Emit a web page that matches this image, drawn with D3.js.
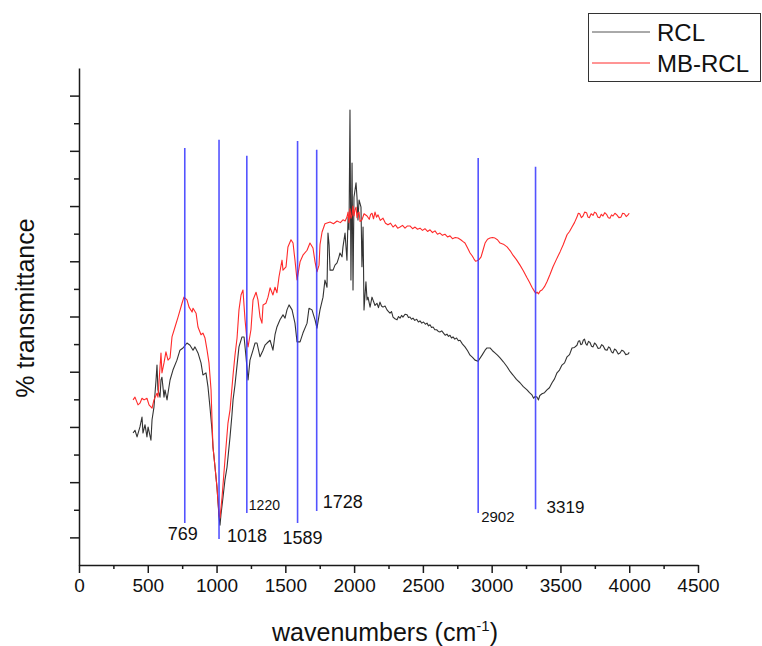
<!DOCTYPE html>
<html>
<head>
<meta charset="utf-8">
<script src="https://cdn.jsdelivr.net/npm/d3@7/dist/d3.min.js"></script>
<style>
  body { margin: 0; background: #fff; }
  svg { display: block; font-family: "Liberation Sans", Arial, sans-serif; }
</style>
</head>
<body>
<svg id="chart" width="762" height="646"></svg>
<script>
// FTIR spectra as [wavenumber (cm-1), % transmittance (offset units)]
const rclSpectrum = [
  [393, 23.9], [407, 24.4], [422, 23.2], [443, 25.0], [458, 26.8], [465, 23.9], [480, 25.4], [494, 23.2], [502, 25.0], [523, 22.6],
  [531, 26.3], [545, 28.6], [560, 33.5], [567, 36.2], [574, 31.7], [589, 30.4], [596, 33.5], [603, 34.0], [618, 30.4], [625, 31.7],
  [640, 29.9], [647, 31.1], [662, 33.5], [683, 35.3], [712, 37.1], [734, 38.9], [756, 39.3], [785, 40.2], [807, 39.8], [829, 38.9],
  [843, 39.5], [865, 38.4], [887, 36.6], [901, 34.4], [923, 34.8], [938, 32.2], [952, 28.6], [967, 24.4], [974, 21.4], [989, 17.7],
  [1003, 14.1], [1018, 8.7], [1025, 7.2], [1032, 9.1], [1047, 12.3], [1061, 15.4], [1076, 17.7], [1098, 23.2], [1112, 27.2], [1120, 29.9],
  [1134, 32.6], [1149, 36.2], [1163, 39.5], [1185, 41.3], [1200, 41.3], [1214, 37.7], [1229, 33.5], [1243, 37.1], [1265, 38.9], [1280, 40.2],
  [1294, 40.2], [1316, 37.7], [1338, 38.9], [1352, 39.8], [1367, 40.2], [1389, 40.7], [1410, 38.9], [1425, 41.7], [1439, 43.1], [1461, 44.4],
  [1483, 45.3], [1498, 44.7], [1512, 46.2], [1527, 47.1], [1549, 46.2], [1570, 43.8], [1585, 40.4], [1607, 40.4], [1628, 42.0], [1658, 43.8],
  [1672, 46.5], [1694, 46.2], [1716, 44.4], [1730, 42.9], [1752, 46.2], [1774, 48.5], [1788, 51.6], [1803, 50.3], [1810, 60.1], [1818, 58.0],
  [1825, 53.4], [1847, 53.4], [1861, 54.3], [1876, 54.7], [1890, 55.8], [1897, 56.5], [1912, 55.8], [1919, 57.6], [1934, 60.1], [1948, 55.2],
  [1956, 63.0], [1963, 60.7], [1970, 82.4], [1977, 51.6], [1985, 72.8], [1992, 49.8], [1999, 66.6], [2014, 69.2], [2021, 66.6], [2028, 62.5],
  [2036, 66.1], [2050, 64.8], [2057, 54.0], [2065, 61.2], [2072, 46.2], [2086, 51.3], [2094, 48.0], [2101, 48.5], [2116, 46.7], [2130, 48.5],
  [2137, 48.0], [2152, 47.0], [2166, 47.4], [2177, 46.6], [2188, 47.6], [2199, 46.9], [2210, 46.7], [2225, 46.9], [2239, 46.2], [2250, 45.9],
  [2261, 45.6], [2272, 45.9], [2283, 44.9], [2297, 44.6], [2312, 44.4], [2323, 45.0], [2334, 44.7], [2345, 45.2], [2355, 44.9], [2370, 45.4],
  [2385, 45.3], [2395, 44.8], [2406, 44.9], [2417, 44.5], [2428, 44.7], [2441, 44.3], [2455, 44.5], [2467, 44.0], [2479, 44.2], [2492, 43.8],
  [2505, 44.0], [2518, 43.6], [2530, 43.8], [2541, 43.3], [2552, 43.5], [2563, 43.0], [2574, 43.1], [2587, 42.6], [2600, 42.6], [2612, 42.3],
  [2624, 42.2], [2637, 42.4], [2650, 42.0], [2662, 41.6], [2675, 41.8], [2686, 41.4], [2697, 41.6], [2708, 41.1], [2719, 41.3], [2732, 40.9],
  [2745, 41.1], [2758, 40.6], [2770, 40.7], [2788, 40.0], [2806, 39.5], [2825, 38.8], [2843, 38.0], [2861, 37.6], [2879, 37.1], [2901, 36.9],
  [2930, 38.0], [2952, 38.9], [2966, 39.3], [2988, 39.3], [3006, 38.8], [3024, 38.4], [3042, 38.0], [3061, 37.5], [3085, 36.8], [3112, 35.9],
  [3135, 35.0], [3155, 34.4], [3180, 33.6], [3206, 33.0], [3230, 32.3], [3257, 31.7], [3275, 31.2], [3293, 30.8], [3305, 30.2], [3315, 30.5],
  [3330, 30.4], [3340, 29.9], [3350, 30.7], [3366, 31.0], [3384, 31.2], [3402, 31.7], [3420, 32.1], [3439, 33.0], [3457, 33.7], [3475, 34.8],
  [3493, 35.3], [3511, 36.2], [3530, 36.6], [3548, 37.7], [3566, 38.1], [3584, 39.3], [3602, 39.4], [3620, 39.8], [3630, 40.5], [3640, 40.6],
  [3648, 39.9], [3657, 40.0], [3666, 40.7], [3675, 40.9], [3684, 40.1], [3693, 39.8], [3704, 40.5], [3715, 40.3], [3726, 39.6], [3737, 39.5],
  [3748, 40.2], [3760, 39.9], [3774, 39.2], [3788, 39.3], [3799, 39.9], [3810, 39.7], [3825, 39.0], [3839, 38.9], [3850, 39.5], [3860, 39.3],
  [3871, 38.6], [3882, 38.4], [3893, 39.1], [3905, 38.9], [3920, 38.2], [3933, 38.4], [3946, 38.9], [3960, 38.7], [3975, 38.1], [3991, 38.2],
  [4000, 38.5]
];

const mbSpectrum = [
  [393, 29.9], [407, 30.4], [429, 29.0], [443, 29.3], [458, 30.2], [473, 29.9], [494, 30.2], [509, 29.0], [531, 28.4], [545, 29.9],
  [567, 31.1], [574, 30.4], [596, 38.4], [603, 34.8], [618, 36.6], [632, 38.6], [647, 37.1], [662, 37.5], [676, 41.3], [698, 43.1],
  [720, 44.9], [749, 47.4], [763, 48.5], [785, 48.0], [800, 46.7], [822, 45.8], [829, 46.5], [851, 45.6], [865, 43.1], [887, 41.7],
  [901, 42.0], [916, 41.1], [931, 38.9], [945, 36.6], [960, 31.7], [967, 26.3], [974, 21.4], [989, 17.7], [1003, 14.1], [1018, 9.1],
  [1025, 8.5], [1040, 12.3], [1061, 19.0], [1083, 25.7], [1098, 28.1], [1120, 34.4], [1134, 38.0], [1149, 41.1], [1163, 46.2], [1178, 48.9],
  [1192, 49.8], [1207, 44.4], [1221, 40.7], [1229, 39.5], [1250, 42.6], [1265, 48.0], [1287, 49.4], [1301, 48.0], [1316, 44.9], [1330, 43.8],
  [1338, 47.1], [1359, 47.4], [1374, 48.5], [1389, 50.2], [1410, 48.9], [1425, 50.3], [1439, 49.3], [1454, 52.2], [1476, 55.2], [1483, 53.4],
  [1505, 54.0], [1519, 57.6], [1541, 58.9], [1556, 58.3], [1570, 55.2], [1585, 51.6], [1607, 54.9], [1628, 56.1], [1658, 57.0], [1679, 58.3],
  [1701, 57.4], [1716, 54.9], [1730, 53.1], [1745, 54.3], [1752, 58.0], [1767, 60.3], [1788, 61.8], [1825, 62.1], [1850, 61.8], [1876, 62.3],
  [1900, 62.0], [1919, 62.5], [1935, 62.3], [1948, 63.0], [1956, 63.9], [1963, 62.0], [1970, 64.5], [1977, 62.8], [1985, 63.4], [1992, 65.0],
  [1999, 63.2], [2006, 64.3], [2014, 64.8], [2021, 62.9], [2028, 63.7], [2036, 63.9], [2043, 62.2], [2057, 62.5], [2072, 63.6], [2094, 63.2],
  [2110, 62.6], [2120, 63.5], [2130, 63.7], [2141, 62.7], [2152, 63.9], [2163, 63.0], [2174, 63.4], [2190, 62.4], [2210, 62.8], [2228, 61.9],
  [2246, 61.6], [2265, 61.9], [2283, 61.2], [2300, 61.6], [2317, 61.0], [2334, 61.2], [2352, 61.5], [2370, 61.0], [2388, 61.4], [2406, 61.4],
  [2425, 60.9], [2443, 61.2], [2461, 60.8], [2479, 61.0], [2497, 60.6], [2515, 60.9], [2534, 60.4], [2552, 60.7], [2570, 60.2], [2588, 60.5],
  [2606, 59.9], [2624, 60.1], [2642, 59.7], [2660, 59.9], [2679, 59.4], [2697, 59.6], [2715, 59.1], [2735, 59.3], [2755, 59.2], [2775, 58.9],
  [2790, 58.6], [2806, 58.3], [2825, 57.4], [2843, 56.5], [2858, 56.0], [2872, 55.4], [2883, 55.0], [2893, 55.1], [2908, 55.3], [2923, 55.8],
  [2937, 57.0], [2952, 58.3], [2970, 59.0], [2988, 59.2], [3006, 59.3], [3024, 59.2], [3042, 58.9], [3061, 58.3], [3085, 58.1], [3112, 57.6],
  [3135, 56.9], [3155, 56.1], [3180, 55.3], [3206, 54.3], [3230, 53.3], [3257, 52.0], [3275, 51.2], [3293, 50.3], [3310, 49.6], [3320, 49.2],
  [3330, 49.4], [3340, 49.1], [3352, 49.6], [3366, 49.8], [3384, 50.4], [3402, 51.3], [3424, 52.6], [3446, 54.0], [3470, 55.3], [3497, 56.7],
  [3520, 58.0], [3548, 59.8], [3566, 60.4], [3584, 61.2], [3602, 62.0], [3620, 63.0], [3630, 63.7], [3640, 63.6], [3652, 62.9], [3664, 63.2],
  [3676, 63.9], [3690, 63.8], [3700, 63.0], [3710, 62.9], [3723, 63.6], [3737, 63.3], [3748, 63.9], [3760, 63.7], [3772, 63.0], [3785, 62.9],
  [3797, 63.5], [3809, 63.2], [3822, 63.8], [3835, 63.5], [3848, 62.9], [3860, 62.8], [3871, 63.4], [3882, 63.2], [3896, 63.7], [3910, 63.4],
  [3925, 62.9], [3940, 63.0], [3952, 63.7], [3965, 63.6], [3978, 63.1], [3991, 63.4], [4000, 63.7]
];

// Assigned absorption bands
const peakWave = [769, 1018, 1220, 1589, 1728, 2902, 3319];
const peakLabels = ["769", "1018", "1220", "1589", "1728", "2902", "3319"];
const peakTop = [75.5, 77.0, 74.1, 76.8, 75.2, 73.7, 72.1];
const peakBottom = [7.6, 4.7, 9.4, 7.6, 9.8, 9.4, 10.1];

const xMajor = [0, 500, 1000, 1500, 2000, 2500, 3000, 3500, 4000, 4500];
const xMinor = [250, 750, 1250, 1750, 2250, 2750, 3250, 3750, 4250];
const yMajor = [5, 15, 25, 35, 45, 55, 65, 75, 85];
const yMinor = [10, 20, 30, 40, 50, 60, 70, 80];
const seriesNames = ["RCL", "MB-RCL"];

// ---- layout ----
const svg = d3.select("#chart");
const x = d3.scaleLinear().domain([0, 4500]).range([79, 698]);
const y = d3.scaleLinear().domain([0, 90]).range([565, 68]);
const colors = { rcl: "#333333", mb: "#ff2a2a", band: "#3535ff", axis: "#1a1a1a" };

// placement of the band labels relative to the bottom end of each line
const labelLayout = [
  { dx: -2, dy: 17, anchor: "middle", size: 18 },
  { dx: 8, dy: 3, anchor: "start", size: 18 },
  { dx: 2, dy: -3, anchor: "start", size: 14 },
  { dx: 5, dy: 21, anchor: "middle", size: 18 },
  { dx: 6, dy: -3, anchor: "start", size: 18 },
  { dx: 3, dy: 9, anchor: "start", size: 15 },
  { dx: 11, dy: 4, anchor: "start", size: 17 }
];

// ---- axes ----
const gx = svg.append("g").attr("transform", `translate(0,${y(0)})`);
gx.call(d3.axisBottom(x).tickValues(xMajor).tickSize(8).tickSizeOuter(0).tickPadding(6).tickFormat(d3.format("d")));
const gxMinor = svg.append("g").attr("transform", `translate(0,${y(0)})`);
gxMinor.call(d3.axisBottom(x).tickValues(xMinor).tickSize(4).tickFormat(""));
gxMinor.select(".domain").remove();

const gy = svg.append("g").attr("transform", `translate(${x(0)},0)`);
gy.call(d3.axisLeft(y).tickValues(yMajor).tickSize(9).tickSizeOuter(0).tickFormat(""));
const gyMinor = svg.append("g").attr("transform", `translate(${x(0)},0)`);
gyMinor.call(d3.axisLeft(y).tickValues(yMinor).tickSize(5).tickFormat(""));
gyMinor.select(".domain").remove();

svg.selectAll(".domain, .tick line").attr("stroke", colors.axis).attr("stroke-width", 1.5);
gx.selectAll(".tick text").attr("font-size", 19).attr("fill", "#111").attr("font-family", "Liberation Sans, Arial, sans-serif");

// axis titles
const xt = svg.append("text")
  .attr("x", 385).attr("y", 641)
  .attr("text-anchor", "middle").attr("font-size", 25).attr("fill", "#111");
xt.append("tspan").text("wavenumbers (cm");
xt.append("tspan").attr("font-size", 15).attr("dy", -10).text("-1");
xt.append("tspan").attr("dy", 10).text(")");

svg.append("text")
  .attr("transform", "translate(34,308) rotate(-90)")
  .attr("text-anchor", "middle").attr("font-size", 25).attr("fill", "#111")
  .text("% transmittance");

// ---- spectra ----
const line = d3.line().x(d => x(d[0])).y(d => y(d[1]));

svg.append("path").datum(rclSpectrum)
  .attr("fill", "none").attr("stroke", colors.rcl).attr("stroke-width", 1.1)
  .attr("stroke-linejoin", "round").attr("d", line);
svg.append("path").datum(mbSpectrum)
  .attr("fill", "none").attr("stroke", colors.mb).attr("stroke-width", 1.1)
  .attr("stroke-linejoin", "round").attr("d", line);

// ---- band markers ----
const bands = peakWave.map((w, i) => ({ w, label: peakLabels[i], top: peakTop[i], bottom: peakBottom[i], lay: labelLayout[i] }));
svg.append("g").selectAll("line").data(bands).join("line")
  .attr("x1", d => x(d.w)).attr("x2", d => x(d.w))
  .attr("y1", d => y(d.top)).attr("y2", d => y(d.bottom))
  .attr("stroke", colors.band).attr("stroke-width", 1.6).attr("stroke-opacity", 0.85);

svg.append("g").selectAll("text").data(bands).join("text")
  .attr("x", d => x(d.w) + d.lay.dx)
  .attr("y", d => y(d.bottom) + d.lay.dy)
  .attr("text-anchor", d => d.lay.anchor)
  .attr("font-size", d => d.lay.size)
  .attr("fill", "#111")
  .text(d => d.label);

// ---- legend ----
const lg = svg.append("g");
lg.append("rect").attr("x", 588.5).attr("y", 13.5).attr("width", 172).attr("height", 68)
  .attr("fill", "#fff").attr("stroke", "#333").attr("stroke-width", 1);
const legendColors = ["#555", colors.mb];
seriesNames.forEach((name, i) => {
  const ly = 32 + i * 31;
  lg.append("line").attr("x1", 592).attr("x2", 650).attr("y1", ly).attr("y2", ly)
    .attr("stroke", legendColors[i]).attr("stroke-width", 1);
  lg.append("text").attr("x", 657).attr("y", ly + 8.5).attr("font-size", 24).attr("fill", "#111").text(name);
});
</script>
</body>
</html>
